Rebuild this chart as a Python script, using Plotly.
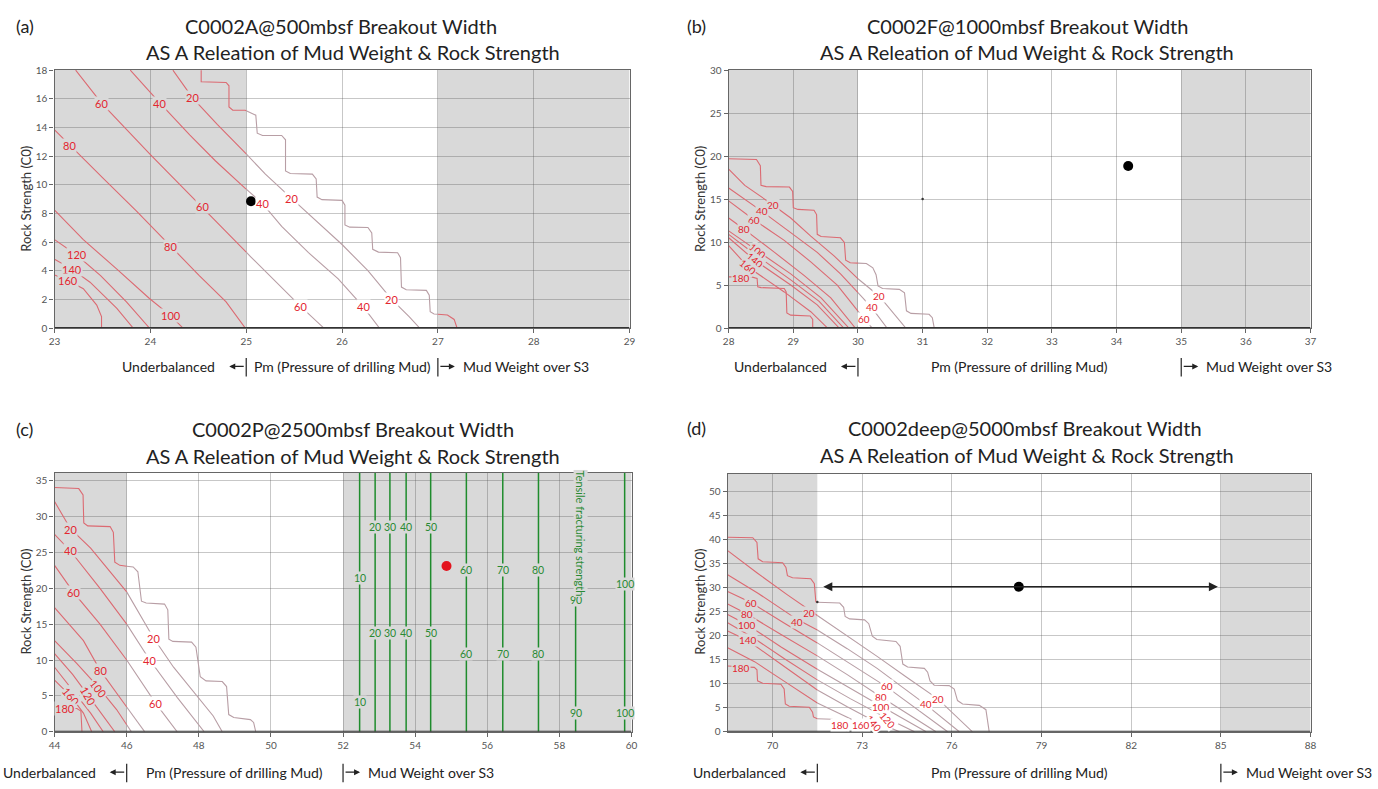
import plotly.graph_objects as go

W, H = 1378, 789

# ---------------- DATA ----------------
# Panel (a)
a_xrange = [23, 29]
a_yrange = [0, 18.01]
a_shade = [[23, 25], [27, 29]]
a_step_x = [24.53, 24.53, 24.79, 24.82, 24.82, 24.86, 24.99, 25.10, 25.115, 25.17, 25.37, 25.41, 25.41, 25.46,
            25.69, 25.73, 25.74, 25.79, 26.00, 26.03, 26.03, 26.08, 26.27, 26.31, 26.32, 26.38, 26.58, 26.61,
            26.62, 26.67, 26.88, 26.91, 26.92, 26.96, 27.10, 27.17, 27.20]
a_step_y = [18.0, 17.19, 17.14, 16.91, 15.43, 15.20, 15.20, 14.86, 13.60, 13.44, 13.44, 13.14, 10.97, 10.79,
            10.74, 10.40, 9.14, 8.96, 8.91, 8.57, 7.20, 7.04, 7.02, 6.63, 5.49, 5.30, 5.26, 4.91,
            2.86, 2.67, 2.63, 2.29, 1.14, 0.98, 0.91, 0.60, 0.0]
a_20_x = [24.235, 24.44, 24.70, 24.99, 25.20, 25.47, 25.72, 26.0, 26.27, 26.52, 26.70, 26.81]
a_20_y = [18.0, 16.07, 14.2, 12.23, 10.74, 9.07, 7.54, 5.83, 4.0, 1.99, 0.8, 0.0]
a_40_x = [23.79, 24.10, 24.41, 24.68, 24.99, 25.17, 25.37, 25.65, 25.96, 26.22, 26.39]
a_40_y = [18.0, 15.70, 13.49, 11.66, 9.75, 8.69, 7.09, 5.26, 3.43, 1.49, 0.0]
a_60_x = [23.22, 23.49, 24.0, 24.54, 25.05, 25.57, 25.81]
a_60_y = [18.0, 15.70, 12.1, 8.46, 4.95, 1.49, 0.0]
a_80_x = [23.0, 23.16, 23.50, 23.85, 24.21, 24.51, 24.79, 24.99]
a_80_y = [13.83, 12.75, 10.5, 8.2, 5.71, 3.66, 1.83, 0.0]
a_100_x = [23.0, 23.30, 23.65, 23.99, 24.21, 24.34]
a_100_y = [8.23, 6.17, 4.11, 2.06, 0.87, 0.0]
a_120_x = [23.0, 23.23, 23.48, 23.75, 23.99]
a_120_y = [6.17, 5.10, 3.66, 1.83, 0.0]
a_140_x = [23.0, 23.18, 23.37, 23.65, 23.82]
a_140_y = [4.8, 4.11, 3.2, 1.37, 0.0]
a_160_x = [23.0, 23.14, 23.30, 23.44, 23.49, 23.49]
a_160_y = [3.7, 3.31, 2.74, 1.6, 0.8, 0.0]
a_lab_text = ['60', '40', '20', '80', '60', '40', '20', '80', '120', '140', '160', '100', '60', '40', '20']
a_lab_x = [23.49, 24.10, 24.44, 23.16, 24.54, 25.17, 25.47, 24.21, 23.23, 23.18, 23.14, 24.21, 25.57, 26.22, 26.52]
a_lab_y = [15.70, 15.70, 16.07, 12.75, 8.46, 8.69, 9.07, 5.71, 5.10, 4.11, 3.31, 0.87, 1.49, 1.49, 1.99]
a_lab_ang = [0] * 15
a_dot = [25.05, 8.85]

# Panel (b)
b_xrange = [28, 37]
b_yrange = [0, 30.02]
b_shade = [[28, 30], [35, 37]]
b_step_x = [28.0, 28.43, 28.49, 28.50, 28.58, 28.94, 28.99, 29.0, 29.07, 29.32, 29.36, 29.37, 29.43, 29.73,
            29.79, 29.81, 29.88, 30.13, 30.23, 30.28, 30.31, 30.38, 30.64, 30.72, 30.75, 30.82, 31.10,
            31.15, 31.18]
b_step_y = [19.7, 19.6, 18.9, 16.6, 16.45, 16.4, 15.9, 14.0, 13.8, 13.7, 13.2, 10.9, 10.65, 10.5,
            9.96, 7.9, 7.6, 7.5, 7.0, 6.2, 4.9, 4.6, 4.5, 4.1, 2.0, 1.7, 1.6, 1.2, 0.0]
b_20_x = [28.0, 28.25, 28.68, 28.96, 29.27, 29.63, 29.99, 30.33, 30.74]
b_20_y = [18.5, 16.6, 14.35, 12.8, 10.7, 8.4, 5.8, 3.7, 0.0]
b_40_x = [28.0, 28.51, 28.96, 29.37, 29.73, 30.21, 30.45]
b_40_y = [16.3, 13.6, 11.1, 8.8, 6.3, 2.4, 0.0]
b_60_x = [28.0, 28.39, 28.86, 29.27, 29.68, 30.09, 30.22]
b_60_y = [14.8, 12.6, 10.2, 7.7, 5.0, 1.1, 0.0]
b_80_x = [28.0, 28.24, 28.71, 29.17, 29.58, 29.96]
b_80_y = [12.8, 11.5, 8.8, 6.1, 3.5, 0.0]
b_100_x = [28.0, 28.45, 28.96, 29.43, 29.86]
b_100_y = [11.3, 9.0, 6.3, 3.5, 0.0]
b_120_x = [28.0, 28.42, 28.96, 29.40, 29.78]
b_120_y = [10.9, 8.5, 5.6, 3.1, 0.0]
b_140_x = [28.0, 28.40, 28.96, 29.37, 29.71]
b_140_y = [10.5, 7.9, 5.0, 2.7, 0.0]
b_160_x = [28.0, 28.30, 28.86, 29.27, 29.53]
b_160_y = [9.6, 7.1, 4.2, 1.9, 0.0]
b_180_x = [28.0, 28.35, 28.44, 28.45, 28.50, 28.86, 28.89, 28.90, 28.96, 29.26, 29.30, 29.30]
b_180_y = [5.95, 5.95, 5.76, 4.8, 4.7, 4.6, 4.2, 1.75, 1.5, 1.4, 1.0, 0.0]
b_lab_text = ['20', '40', '60', '80', '100', '140', '160', '180', '20', '40', '60']
b_lab_x = [28.68, 28.51, 28.39, 28.24, 28.45, 28.40, 28.30, 28.19, 30.33, 30.21, 30.09]
b_lab_y = [14.35, 13.6, 12.6, 11.5, 9.0, 7.9, 7.1, 5.84, 3.75, 2.4, 1.1]
b_lab_ang = [0, 0, 0, 0, 40, 40, 40, 0, 0, 0, 0]
b_dot = [34.18, 18.85]
b_tick_mark = [31.0, 15.0]

# Panel (c)
c_xrange = [44, 60]
c_yrange = [0, 36.1]
c_shade = [[44, 46], [52, 60]]
c_step_x = [44.0, 44.67, 44.79, 44.81, 44.92, 45.54, 45.63, 45.67, 45.81, 46.18, 46.31, 46.41, 46.54, 47.05,
            47.14, 47.17, 47.28, 47.80, 47.92, 48.04, 48.20, 48.65, 48.77, 48.83, 48.97, 49.43, 49.52, 49.58]
c_step_y = [34.06, 33.9, 33.0, 29.1, 28.7, 28.6, 27.8, 23.65, 23.2, 22.97, 22.3, 18.2, 17.95, 17.8,
            17.0, 12.9, 12.6, 12.5, 11.8, 7.67, 7.1, 7.0, 6.3, 2.4, 2.0, 1.7, 1.3, 0.0]
c_20_x = [44.0, 44.44, 45.0, 45.5, 46.0, 46.74, 47.3, 47.85, 48.4, 48.65]
c_20_y = [32.1, 28.3, 25.6, 22.6, 19.5, 13.1, 9.0, 5.6, 2.2, 0.0]
c_40_x = [44.0, 44.44, 45.26, 46.0, 46.64, 47.4, 48.15]
c_40_y = [27.5, 25.2, 20.0, 15.0, 10.0, 4.8, 0.0]
c_60_x = [44.0, 44.53, 45.26, 46.0, 46.8, 47.4]
c_60_y = [23.2, 19.4, 15.0, 10.0, 4.0, 0.0]
c_80_x = [44.0, 44.8, 45.26, 45.72, 46.5]
c_80_y = [17.3, 12.7, 8.6, 5.4, 0.0]
c_100_x = [44.0, 44.62, 45.22, 45.72, 46.13]
c_100_y = [12.7, 9.5, 6.2, 3.1, 0.0]
c_120_x = [44.0, 44.5, 44.94, 45.35, 45.67]
c_120_y = [10.9, 8.0, 5.0, 2.2, 0.0]
c_140_x = [44.0, 44.6, 45.0, 45.35]
c_140_y = [9.0, 5.2, 2.6, 0.0]
c_160_x = [44.0, 44.46, 44.8, 45.03]
c_160_y = [7.2, 4.9, 2.6, 0.0]
c_180_x = [44.0, 44.62, 44.73, 44.76]
c_180_y = [3.24, 3.24, 2.9, 0.0]
c_lab_text = ['20', '40', '60', '20', '40', '60', '80', '100', '120', '160', '180']
c_lab_x = [44.44, 44.44, 44.53, 46.74, 46.63, 46.80, 45.26, 45.22, 44.94, 44.46, 44.30]
c_lab_y = [28.2, 25.3, 19.4, 13.0, 9.9, 4.0, 8.5, 6.1, 4.9, 4.9, 3.3]
c_lab_ang = [0, 0, 0, 0, 0, 0, 0, 50, 60, 50, 0]
c_dot = [54.87, 23.1]
# tensile fracturing strength lines
c_tens_x = [52.46, 52.89, 53.30, 53.75, 54.43, 55.42, 56.43, 57.42, 58.45, 59.81]
c_tens_lab = ['10', '20', '30', '40', '50', '60', '70', '80', '90', '100']
c_tens_upper_y = [21.4, 28.6, 28.6, 28.6, 28.6, 22.6, 22.6, 22.6, 18.4, 20.6]
c_tens_lower_y = [4.1, 13.8, 13.8, 13.8, 13.8, 10.9, 10.9, 10.9, 2.65, 2.65]

# Panel (d)
d_xrange = [68.5, 88]
d_yrange = [0, 53.7]
d_shade = [[68.5, 71.5], [85, 88]]
d_step_x = [68.5, 69.34, 69.48, 69.52, 69.67, 70.34, 70.45, 70.50, 70.67, 71.28, 71.40, 71.45, 71.50,
            72.25, 72.38, 72.43, 72.58, 73.08, 73.22, 73.34, 73.49, 74.13, 74.27, 74.36, 74.52, 75.08,
            75.19, 75.27, 75.41, 75.91, 76.08, 76.19, 76.36, 76.92, 77.14, 77.25]
d_step_y = [40.5, 40.4, 39.4, 36.0, 35.4, 35.2, 34.2, 32.5, 32.05, 31.85, 30.8, 27.05, 26.95,
            26.8, 25.9, 24.0, 23.5, 23.3, 22.5, 19.9, 19.2, 18.8, 17.8, 14.1, 13.5, 13.2,
            12.4, 10.6, 9.7, 9.6, 8.9, 6.5, 5.8, 5.5, 4.6, 0.0]
d_20_x = [68.5, 69.5, 70.5, 71.5, 72.5, 73.5, 74.5, 75.53, 76.69]
d_20_y = [37.7, 33.0, 28.5, 24.2, 20.0, 15.7, 11.3, 6.86, 0.0]
d_40_x = [68.5, 69.5, 70.82, 71.5, 72.5, 73.5, 75.12, 76.25]
d_40_y = [32.7, 28.9, 23.4, 21.2, 17.3, 13.2, 5.7, 0.0]
d_60_x = [68.5, 69.28, 70.4, 71.5, 72.6, 73.83, 75.86]
d_60_y = [29.2, 26.9, 22.6, 18.5, 14.2, 9.3, 0.0]
d_80_x = [68.5, 69.15, 70.3, 71.5, 72.5, 73.62, 75.47]
d_80_y = [26.6, 24.5, 20.2, 15.8, 11.9, 7.3, 0.0]
d_100_x = [68.5, 69.15, 70.3, 71.5, 72.6, 73.64, 75.14]
d_100_y = [24.4, 22.3, 17.6, 13.0, 9.0, 5.3, 0.0]
d_120_x = [68.5, 69.3, 70.4, 71.5, 72.6, 73.83, 74.75]
d_120_y = [22.7, 19.8, 15.2, 10.8, 6.9, 2.8, 0.0]
d_140_x = [68.5, 69.17, 70.3, 71.5, 72.5, 73.38, 74.25]
d_140_y = [21.0, 19.0, 14.0, 8.7, 5.2, 2.3, 0.0]
d_160_x = [68.5, 69.4, 70.4, 71.5, 72.4, 72.97, 73.52]
d_160_y = [17.5, 14.6, 10.5, 6.0, 3.4, 1.6, 0.0]
d_180_x = [68.5, 69.39, 69.48, 69.50, 69.67, 70.28, 70.39, 70.43, 70.56, 71.23, 71.34, 71.37, 71.50,
           72.0, 72.25, 72.5]
d_180_y = [13.7, 13.4, 12.9, 10.6, 10.1, 9.9, 8.9, 5.8, 5.3, 5.1, 4.1, 3.1, 2.7, 2.6, 1.5, 0.0]
d_lab_text = ['60', '80', '100', '140', '180', '20', '40', '60', '80', '100', '120', '140', '160', '180', '40', '20']
d_lab_x = [69.28, 69.15, 69.15, 69.17, 68.95, 71.23, 70.82, 73.83, 73.62, 73.64, 73.85, 73.38, 72.97, 72.25, 75.12, 75.53]
d_lab_y = [26.9, 24.5, 22.3, 19.0, 13.2, 24.8, 22.9, 9.5, 7.3, 5.2, 2.5, 1.8, 1.5, 1.5, 5.7, 6.86]
d_lab_ang = [0, 0, 0, 0, 0, 0, 0, 0, 0, 0, 50, 50, 0, 0, 0, 0]
d_dot = [78.24, 30.2]
d_arrow_x = [71.65, 84.9]
d_arrow_y = 30.2
d_tick_mark = [71.5, 27.0]

titles_1 = ['C0002A@500mbsf Breakout Width', 'C0002F@1000mbsf Breakout Width',
            'C0002P@2500mbsf Breakout Width', 'C0002deep@5000mbsf Breakout Width']
title_2 = 'AS A Releation of Mud Weight & Rock Strength'
letters = ['(a)', '(b)', '(c)', '(d)']

# ---------------- STYLE ----------------
FONT = 'Lato'
SHADE = '#d9d9d9'
RED_LINE = '#dc6a72'
MAUVE_LINE = '#b89ea5'
RED_TXT = '#e3262f'
GREEN_LINE = '#1f8c2d'
GREEN_TXT = '#2a8a34'
GRID = 'rgba(80,80,80,0.32)'

fig = go.Figure()


def px2x(p):
    return p / W


def px2y(p):
    return 1 - p / H


panels = [
    dict(ax='', xr=a_xrange, yr=a_yrange, shade=a_shade,
         lines=[(a_step_x, a_step_y), (a_20_x, a_20_y), (a_40_x, a_40_y), (a_60_x, a_60_y), (a_80_x, a_80_y),
                (a_100_x, a_100_y), (a_120_x, a_120_y), (a_140_x, a_140_y), (a_160_x, a_160_y)],
         labs=(a_lab_text, a_lab_x, a_lab_y, a_lab_ang), labsize=11,
         dom_x=[49, 629], dom_y=[65, 327], xt=list(range(23, 30)), yt=list(range(0, 19, 2)),
         dot=a_dot, dotcol='black'),
    dict(ax='2', xr=b_xrange, yr=b_yrange, shade=b_shade,
         lines=[(b_step_x, b_step_y), (b_20_x, b_20_y), (b_40_x, b_40_y), (b_60_x, b_60_y), (b_80_x, b_80_y),
                (b_100_x, b_100_y), (b_120_x, b_120_y), (b_140_x, b_140_y), (b_160_x, b_160_y), (b_180_x, b_180_y)],
         labs=(b_lab_text, b_lab_x, b_lab_y, b_lab_ang), labsize=10,
         dom_x=[729, 1316], dom_y=[65, 327], xt=list(range(28, 38)), yt=list(range(0, 31, 5)),
         dot=b_dot, dotcol='black'),
    dict(ax='3', xr=c_xrange, yr=c_yrange, shade=c_shade,
         lines=[(c_step_x, c_step_y), (c_20_x, c_20_y), (c_40_x, c_40_y), (c_60_x, c_60_y), (c_80_x, c_80_y),
                (c_100_x, c_100_y), (c_120_x, c_120_y), (c_140_x, c_140_y), (c_160_x, c_160_y), (c_180_x, c_180_y)],
         labs=(c_lab_text, c_lab_x, c_lab_y, c_lab_ang), labsize=11,
         dom_x=[49, 631], dom_y=[474, 737], xt=list(range(44, 61, 2)), yt=list(range(0, 36, 5)),
         dot=c_dot, dotcol='#e3141e'),
    dict(ax='4', xr=d_xrange, yr=d_yrange, shade=d_shade,
         lines=[(d_step_x, d_step_y), (d_20_x, d_20_y), (d_40_x, d_40_y), (d_60_x, d_60_y), (d_80_x, d_80_y),
                (d_100_x, d_100_y), (d_120_x, d_120_y), (d_140_x, d_140_y), (d_160_x, d_160_y), (d_180_x, d_180_y)],
         labs=(d_lab_text, d_lab_x, d_lab_y, d_lab_ang), labsize=10,
         dom_x=[728, 1316], dom_y=[475, 737], xt=list(range(70, 89, 3)), yt=list(range(0, 51, 5)),
         dot=d_dot, dotcol='black'),
]


def in_shade(x, shades):
    return any(s[0] <= x <= s[1] for s in shades)


def split_line(xs, ys, shades):
    bounds = sorted(set(b for s in shades for b in s))
    px, py = [xs[0]], [ys[0]]
    for i in range(1, len(xs)):
        x0, y0, x1, y1 = xs[i - 1], ys[i - 1], xs[i], ys[i]
        cuts = [b for b in bounds if min(x0, x1) < b < max(x0, x1)]
        cuts.sort(reverse=(x1 < x0))
        for b in cuts:
            t = (b - x0) / (x1 - x0)
            px.append(b)
            py.append(y0 + t * (y1 - y0))
        px.append(x1)
        py.append(y1)
    out = {True: ([], []), False: ([], [])}
    prev = None
    for i in range(1, len(px)):
        cls = in_shade((px[i - 1] + px[i]) / 2, shades)
        tx, ty = out[cls]
        if prev is cls:
            tx.append(px[i])
            ty.append(py[i])
        else:
            if tx:
                tx.append(None)
                ty.append(None)
            tx += [px[i - 1], px[i]]
            ty += [py[i - 1], py[i]]
        prev = cls
    return out


layout = dict(width=W, height=H, margin=dict(l=0, r=0, t=0, b=0), showlegend=False,
              paper_bgcolor='white', plot_bgcolor='white', font=dict(family=FONT, color='#333'))
shapes = []
annotations = []

for k, p in enumerate(panels):
    n = p['ax']
    xa, ya = 'x' + n, 'y' + n
    layout['xaxis' + n] = dict(domain=[px2x(p['dom_x'][0]), px2x(p['dom_x'][1])], range=p['xr'],
                               anchor=ya, tickvals=p['xt'], showgrid=True, gridcolor=GRID, gridwidth=1,
                               showline=True, mirror=True, linecolor='#666', linewidth=1.3, zeroline=False,
                               ticks='outside', ticklen=4, tickcolor='#666',
                               tickfont=dict(size=10, color='#555', family=FONT))
    layout['yaxis' + n] = dict(domain=[px2y(p['dom_y'][1]), px2y(p['dom_y'][0])], range=p['yr'],
                               anchor=xa, tickvals=p['yt'], showgrid=True, gridcolor=GRID, gridwidth=1,
                               showline=True, mirror=True, linecolor='#666', linewidth=1.3, zeroline=False,
                               ticks='outside', ticklen=4, tickcolor='#666',
                               tickfont=dict(size=10, color='#555', family=FONT))
    for s in p['shade']:
        shapes.append(dict(type='rect', xref=xa, yref=ya, x0=s[0], x1=s[1], y0=p['yr'][0], y1=p['yr'][1],
                           fillcolor=SHADE, line=dict(width=0), layer='below'))
    shapes.append(dict(type='line', xref=xa, yref=ya, x0=p['xr'][0], x1=p['xr'][1], y0=p['yr'][0],
                       y1=p['yr'][0], line=dict(color='#333', width=2.2), layer='above'))
    rx, ry, gx, gy = [], [], [], []
    for xs, ys in p['lines']:
        parts = split_line(xs, ys, p['shade'])
        if parts[True][0]:
            rx += parts[True][0] + [None]
            ry += parts[True][1] + [None]
        if parts[False][0]:
            gx += parts[False][0] + [None]
            gy += parts[False][1] + [None]
    fig.add_trace(go.Scatter(x=gx, y=gy, mode='lines', xaxis=xa, yaxis=ya,
                             line=dict(color=MAUVE_LINE, width=1.1), hoverinfo='skip'))
    fig.add_trace(go.Scatter(x=rx, y=ry, mode='lines', xaxis=xa, yaxis=ya,
                             line=dict(color=RED_LINE, width=1.1), hoverinfo='skip'))
    texts, lx, ly, la = p['labs']
    for t, x, y, ang in zip(texts, lx, ly, la):
        annotations.append(dict(xref=xa, yref=ya, x=x, y=y, text=t, showarrow=False, textangle=ang,
                                xanchor='center', yanchor='middle',
                                font=dict(size=p['labsize'], color=RED_TXT, family=FONT),
                                bgcolor=SHADE if in_shade(x, p['shade']) else 'white', borderpad=0))

# panel (c) tensile lines
for x, t, yu, yl in zip(c_tens_x, c_tens_lab, c_tens_upper_y, c_tens_lower_y):
    fig.add_trace(go.Scatter(x=[x, x], y=[c_yrange[0], c_yrange[1]], mode='lines', xaxis='x3', yaxis='y3',
                             line=dict(color=GREEN_LINE, width=1.5), hoverinfo='skip'))
    for yy in (yu, yl):
        annotations.append(dict(xref='x3', yref='y3', x=x, y=yy, text=t, showarrow=False,
                                xanchor='center', yanchor='middle',
                                font=dict(size=10.5, color=GREEN_TXT, family=FONT), bgcolor=SHADE, borderpad=0))
annotations.append(dict(xref='x3', yref='y3', x=58.58, y=27.6, text='Tensile fracturing strength',
                        showarrow=False, textangle=90, xanchor='center', yanchor='middle',
                        font=dict(size=11, color=GREEN_TXT, family=FONT), bgcolor=SHADE, borderpad=0))

# dots
for p in panels:
    n = p['ax']
    fig.add_trace(go.Scatter(x=[p['dot'][0]], y=[p['dot'][1]], mode='markers', xaxis='x' + n, yaxis='y' + n,
                             marker=dict(color=p['dotcol'], size=10), hoverinfo='skip'))
fig.add_trace(go.Scatter(x=[b_tick_mark[0]], y=[b_tick_mark[1]], mode='markers', xaxis='x2', yaxis='y2',
                         marker=dict(color='#333', size=2.5), hoverinfo='skip'))
fig.add_trace(go.Scatter(x=[d_tick_mark[0]], y=[d_tick_mark[1]], mode='markers', xaxis='x4', yaxis='y4',
                         marker=dict(color='#333', size=2.5), hoverinfo='skip'))

# double arrow in (d)
annotations.append(dict(xref='x4', yref='y4', axref='x4', ayref='y4', x=d_arrow_x[1], y=d_arrow_y,
                        ax=d_arrow_x[0], ay=d_arrow_y, text='', showarrow=True, arrowside='end+start',
                        arrowhead=2, startarrowhead=2, arrowsize=1.2, startarrowsize=1.2, arrowwidth=1.5,
                        arrowcolor='#222'))

# titles, letters, y-axis titles
title_pos = [(338, 350, 20, 47), (1030, 1030, 20, 47), (350, 350, 430, 457), (1028, 1030, 429, 456)]
letter_pos = [(19, 20), (697, 20), (19, 430), (697, 429)]
ytitle_pos = [(20, 196), (700, 196), (20, 605), (700, 605)]
for i in range(4):
    x1, x2, y1, y2 = title_pos[i]
    annotations.append(dict(xref='paper', yref='paper', x=px2x(x1), y=px2y(y1), text=titles_1[i],
                            xanchor='center', yanchor='middle',
                            showarrow=False, font=dict(size=20, color='#222', family=FONT)))
    annotations.append(dict(xref='paper', yref='paper', x=px2x(x2), y=px2y(y2), text=title_2,
                            xanchor='center', yanchor='middle',
                            showarrow=False, font=dict(size=20, color='#222', family=FONT)))
    annotations.append(dict(xref='paper', yref='paper', x=px2x(letter_pos[i][0]), y=px2y(letter_pos[i][1]),
                            xanchor='center', yanchor='middle',
                            text=letters[i], showarrow=False, font=dict(size=18, color='#222', family=FONT)))
    annotations.append(dict(xref='paper', yref='paper', x=px2x(ytitle_pos[i][0]), y=px2y(ytitle_pos[i][1]),
                            xanchor='center', yanchor='middle',
                            text='Rock Strength (C0)', showarrow=False, textangle=-90,
                            font=dict(size=13, color='#333', family=FONT)))

# bottom explanation row
row_y = [366, 366, 778, 778]
for i, p in enumerate(panels):
    xa = 'x' + p['ax']
    lb = p['shade'][0][1]
    rb = p['shade'][1][0]
    yy = px2y(row_y[i])
    f = dict(size=14, color='#222', family=FONT)
    annotations.append(dict(xref=xa, yref='paper', x=lb, y=yy, text='Underbalanced', xanchor='right',
                            yanchor='middle', xshift=-29, showarrow=False, font=f))
    annotations.append(dict(xref=xa, yref='paper', x=(lb + rb) / 2, y=yy, text='Pm (Pressure of drilling Mud)',
                            xanchor='center', yanchor='middle', showarrow=False, font=f))
    annotations.append(dict(xref=xa, yref='paper', x=rb, y=yy, text='Mud Weight over S3', xanchor='left',
                            yanchor='middle', xshift=23, showarrow=False, font=f))
    for b in (lb, rb):
        annotations.append(dict(xref=xa, yref='paper', x=b, y=yy, yshift=-10, text='', showarrow=True,
                                ax=0, ay=-20, arrowhead=0, arrowwidth=1.2, arrowcolor='#222'))
    annotations.append(dict(xref=xa, yref='paper', x=lb, y=yy, xshift=-17, text='', showarrow=True,
                            ax=16, ay=0, arrowhead=2, arrowsize=1, arrowwidth=1.2, arrowcolor='#222'))
    annotations.append(dict(xref=xa, yref='paper', x=rb, y=yy, xshift=17, text='', showarrow=True,
                            ax=-16, ay=0, arrowhead=2, arrowsize=1, arrowwidth=1.2, arrowcolor='#222'))

layout['shapes'] = shapes
layout['annotations'] = annotations
fig.update_layout(**layout)
fig.write_html('out.html')
